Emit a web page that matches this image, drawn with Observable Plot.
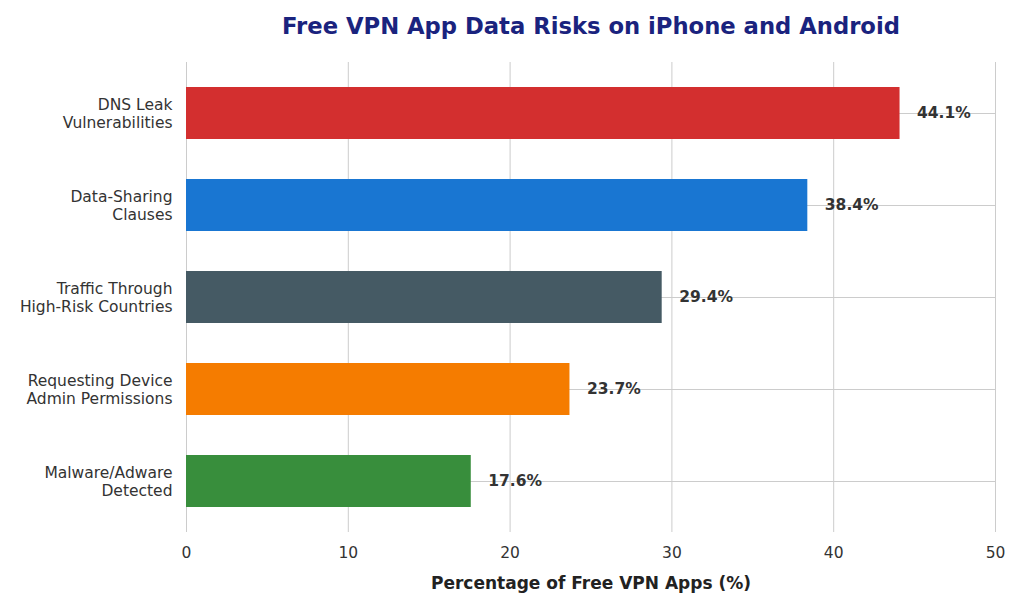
<!DOCTYPE html>
<html>
<head>
<meta charset="utf-8">
<script src="https://cdn.jsdelivr.net/npm/d3@7"></script>
<script src="https://cdn.jsdelivr.net/npm/@observablehq/plot@0.6"></script>
<style>
  html, body { margin: 0; padding: 0; background: #fff; }
  #chart { width: 1024px; height: 614px; }
</style>
</head>
<body>
<div id="chart"></div>
<script>
const categories = [
  "DNS Leak\nVulnerabilities",
  "Data-Sharing\nClauses",
  "Traffic Through\nHigh-Risk Countries",
  "Requesting Device\nAdmin Permissions",
  "Malware/Adware\nDetected"
];
const values = [44.1, 38.4, 29.4, 23.7, 17.6];
const colors = ["#d32f2f", "#1976d2", "#455a64", "#f57c00", "#388e3c"];
const xTicks = [0, 10, 20, 30, 40, 50];
const title = "Free VPN App Data Risks on iPhone and Android";
const xLabel = "Percentage of Free VPN Apps (%)";

const data = categories.map((c, i) => ({category: c, value: values[i], color: colors[i]}));

const chart = Plot.plot({
  width: 1024,
  height: 614,
  marginLeft: 186,
  marginRight: 29,
  marginTop: 62,
  marginBottom: 82,
  style: {fontFamily: "DejaVu Sans, sans-serif", fontSize: "15.5px", color: "#333", background: "#fff"},
  x: {domain: [0, 50], ticks: xTicks},
  y: {domain: categories, paddingInner: 0.43, paddingOuter: 0.242},
  marks: [
    Plot.gridX(xTicks, {stroke: "#cccccc", strokeOpacity: 1, strokeWidth: 1}),
    Plot.gridY({stroke: "#cccccc", strokeOpacity: 1, strokeWidth: 1}),
    Plot.barX(data, {y: "category", x: "value", fill: d => d.color}),
    Plot.text(data, {
      y: "category", x: "value", text: d => d.value.toFixed(1) + "%",
      textAnchor: "start", dx: 17, fontWeight: "bold", fontSize: 15.5, fill: "#333"
    }),
    Plot.axisX(xTicks, {tickSize: 0, tickPadding: 14, fontSize: 15.5, fill: "#333", label: null}),
    Plot.axisY({tickSize: 0, tickPadding: 14, fontSize: 15.5, fill: "#333", lineHeight: 1.17, label: null}),
    Plot.text([xLabel], {frameAnchor: "bottom", lineAnchor: "middle", dy: 51, fontWeight: "bold", fontSize: 17, fill: "#222"}),
    Plot.text([title], {frameAnchor: "top", lineAnchor: "middle", dy: -36, fontWeight: "bold", fontSize: 22.7, fill: "#1a237e"})
  ]
});
document.getElementById("chart").appendChild(chart);
</script>
</body>
</html>
